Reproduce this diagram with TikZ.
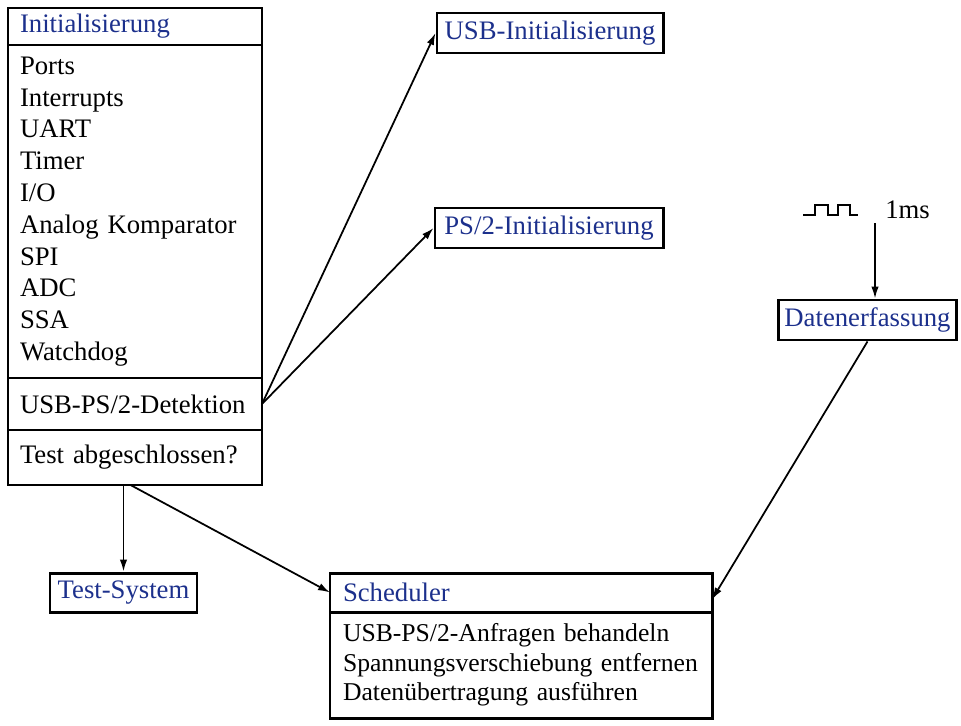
\documentclass[tikz,border=0pt]{standalone}
\usepackage{fontspec}
\setmainfont{Liberation Serif}
\usetikzlibrary{arrows.meta,positioning}
\definecolor{titleblue}{RGB}{28,48,140}

\begin{document}
\begin{tikzpicture}[
            node distance=0pt,
            font=\fontsize{15.2pt}{18.1pt}\selectfont,
            part/.style={draw, line width=1.7pt, outer sep=0pt, inner xsep=0.24cm, align=left},
            title/.style={part, text=titleblue, minimum height=0.78cm},
            box/.style={draw, line width=1.7pt, text=titleblue, minimum height=0.8cm, align=center},
            link/.style={->, line width=1pt},
            >={Latex[length=2.4mm,width=1.5mm]}
        ]
        \useasboundingbox (0,0) rectangle (19.22,-14.52);

        \node[title, anchor=north west, text width=4.6cm, minimum height=0.74cm] (init) at (0.16,-0.16) {Initialisierung};
        \node[part, below=of init, text width=4.6cm, minimum height=6.66cm] (list) {Ports\\ Interrupts\\ UART\\ Timer\\ I/O\\ Analog Komparator\\ SPI\\ ADC\\ SSA\\ Watchdog};
        \node[part, below=of list, text width=4.6cm, minimum height=1.04cm] (detect) {USB-PS/2-Detektion};
        \node[part, below=of detect, text width=4.6cm, minimum height=1.1cm] (test) {Test abgeschlossen?};

        \node[box, minimum width=4.52cm] (usb) at (11.0,-0.66) {USB-Initialisierung};
        \node[box, minimum width=4.56cm] (ps2) at (10.98,-4.56) {PS/2-Initialisierung};
        \node[box, minimum width=3.5cm] (dat) at (17.35,-6.4) {Datenerfassung};
        \node[box, minimum width=2.94cm, minimum height=0.78cm] (testsys) at (2.47,-11.85) {Test-System};

        \node[title, anchor=north west, text width=7.12cm, inner xsep=0.26cm] (sched) at (6.6,-11.46) {Scheduler};
        \node[part, below=of sched, text width=7.12cm, inner xsep=0.26cm, minimum height=2.12cm,
              font=\fontsize{14.6pt}{16.9pt}\selectfont] (jobs) {USB-PS/2-Anfragen behandeln\\ Spannungsverschiebung entfernen\\ Datenübertragung ausführen};

        % Takt
        \draw[line width=1pt] (16.06,-4.3) -- (16.3,-4.3) -- (16.3,-4.1) -- (16.56,-4.1) -- (16.56,-4.3)
            -- (16.76,-4.3) -- (16.76,-4.1) -- (17.0,-4.1) -- (17.0,-4.3) -- (17.16,-4.3);
        \node[anchor=west, inner sep=0pt] (ms) at (17.7,-4.2) {1ms};
        \coordinate (clk) at (17.5,-4.46);

        \draw[link] (detect.east) -- (usb.west);
        \draw[link] (detect.east) -- (ps2.west);
        \draw[link] (clk) -- (clk |- dat.north);
        \draw[link] (testsys.north |- test.south) -- (testsys.north);
        \draw[link] ([xshift=4pt]testsys.north |- test.south) -- (sched.west);
        \draw[link] (dat.south) -- ([yshift=-4pt]sched.east);
    \end{tikzpicture}
\end{document}
